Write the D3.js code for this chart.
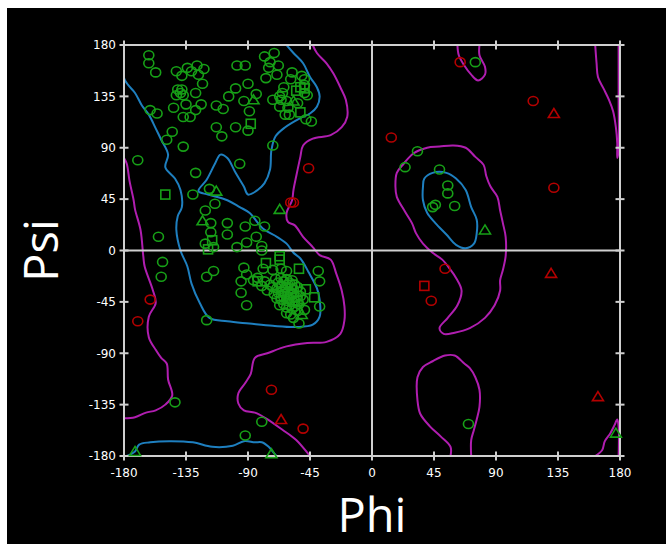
<!DOCTYPE html>
<html lang="en">
<head>
<meta charset="UTF-8">
<title>Ramachandran plot</title>
<style>
  body { margin: 0; background: #fff; }
  svg { display: block; }
</style>
</head>
<body>
<svg id="svg" width="666" height="545"></svg>
<script src="https://d3js.org/d3.v7.min.js"></script>
<script>
// tick values (degrees)
const phiTicks = [-180, -135, -90, -45, 0, 45, 90, 135, 180]
const psiTicks = [-180, -135, -90, -45, 0, 45, 90, 135, 180]

// residues, [phi, psi]
const greenCircles = [
  [-162,171],[-162,164],[-157,156],[-142,157],[-138,153],[-134,160],[-131,157],[-127,162],[-126,154],[-122,159],
  [-123,146],[-141,141],[-139,138],[-142,136],[-137,136],[-138,141],[-128,138],[-135,128],[-144,125],[-124,128],
  [-128,123],[-137,117],[-132,117],[-161,123],[-156,120],[-145,104],[-149,97],[-137,91],[-170,79],[-128,68],
  [-130,49],[-118,54],[-114,41],[-121,35],[-117,24],[-105,24],[-92,21],[-85,26],[-78,21],
  [-98,162],[-92,162],[-104,135],[-99,142],[-90,146],[-93,131],[-84,137],[-89,122],[-113,127],[-108,124],
  [-113,108],[-109,100],[-99,108],[-90,105],[-96,76],[-72,92],
  [-78,170],[-71,173],[-74,165],[-68,162],[-75,160],[-69,154],[-77,151],[-58,156],[-59,150],[-51,153],
  [-49,150],[-49,145],[-64,143],[-65,138],[-67,135],[-72,132],[-66,132],[-62,131],[-67,126],[-61,125],
  [-54,129],[-49,138],[-47,136],[-63,119],[-60,119],[-48,115],[-44,113],
  [-155,12],[-152,-10],[-153,-23],[-117,16],[-105,14],[-84,12],[-91,7],[-121,6],[-115,3],[-98,3],
  [-80,4],[-80,0],[-115,-18],[-120,-23],[-93,-15],[-91,-21],[-95,-27],[-86,-26],[-95,-37],[-91,-48],
  [-120,-61],[-79,-16],[-72,-17],[-66,-16],[-62,-18],[-39,-18],[-38,-27],[-38,-49],[-53,-64],[-49,-52],
  [-70,-25],[-68,-28],[-66,-24],[-64,-27],[-62,-25],[-60,-28],[-58,-26],[-56,-30],
  [-72,-32],[-69,-33],[-66,-31],[-63,-32],[-61,-30],[-59,-33],[-57,-34],[-54,-32],[-52,-36],
  [-71,-38],[-68,-37],[-65,-36],[-63,-38],[-61,-36],[-59,-39],[-57,-38],[-55,-41],[-52,-40],[-50,-43],
  [-69,-42],[-66,-43],[-64,-41],[-62,-44],[-60,-42],[-58,-45],[-56,-44],[-53,-47],
  [-67,-48],[-64,-47],[-62,-50],[-60,-48],[-58,-51],[-56,-49],[-54,-53],
  [-62,-55],[-59,-56],[-57,-59],[-74,-30],[-76,-35],[-78,-27],[-80,-31],[-83,-24],
  [75,165],[33,87],[24,73],[49,71],[55,57],[55,50],[46,40],[44,38],[60,39],[70,-152],
  [-143,-133],[-80,-150],[-92,-162]
]
const greenSquares = [
  [-88,111],[-150,49],[-55,140],[-52,121],[-52,143],[-49,142],[-116,9],[-119,1],[-67,-5],[-67,-8],
  [-77,-11],[-53,-16],[-48,-34],[-42,-41],[-83,-27],[-58,-30],[-66,-40],[-54,-44]
]
const greenTriangles = [
  [-113,52],[-123,26],[-67,36],[-57,131],[-86,132],[-51,-56],[82,18],[-172,-176],[-73,-178],[177,-160]
]
const redCircles = [
  [-46,72],[-59,42],[-57,42],[-161,-43],[-170,-62],[64,165],[117,131],[14,99],[132,55],[53,-16],
  [43,-44],[-73,-122],[-50,-156]
]
const redTriangles = [[132,120],[130,-20],[164,-128],[-66,-148]]
const redSquares = [[38,-31]]

// core region contours (blue)
const coreBeta = [
  [-180,180],[-180,151],[-177,145],[-172,138],[-167,127],[-162,119],[-157,107],[-153,97],[-148,84],[-150,73],
  [-143,63],[-139,53],[-138,38],[-141,30],[-142,18],[-139,0],[-134,-14],[-131,-29],[-125,-46],[-118,-59],
  [-105,-62],[-89,-64],[-72,-66],[-55,-67],[-43,-65],[-38,-58],[-38,-43],[-40,-33],[-46,-19],[-52,-7],
  [-57,-2],[-62,6],[-69,12],[-79,19],[-89,33],[-96,38],[-105,44],[-119,49],[-126,52],[-120,62],
  [-114,76],[-110,84],[-105,81],[-99,68],[-93,56],[-90,49],[-83,53],[-78,59],[-74,71],[-73,88],
  [-70,100],[-63,108],[-52,116],[-45,120],[-40,126],[-38,135],[-40,143],[-45,152],[-50,164],[-57,173],[-62,180]
]
const coreBottom = [
  [-178,-180],[-172,-176],[-169,-170],[-161,-168],[-147,-167],[-130,-168],[-116,-172],[-101,-171],[-93,-167],
  [-85,-168],[-80,-168],[-75,-172],[-70,-179],[-69,-180]
]
const coreAlphaL = [
  [38,63],[44,68],[54,68],[61,63],[68,53],[72,38],[76,27],[76,15],[74,6],[68,2],[61,5],[54,14],[46,24],
  [40,33],[37,44],[37,56]
]

// allowed region contours (magenta)
const allowedMain = [
  [-43,180],[-40,173],[-33,164],[-28,155],[-23,143],[-19,132],[-18,117],[-22,108],[-30,101],[-43,98],
  [-50,92],[-52,82],[-55,65],[-57,53],[-58,44],[-62,33],[-61,25],[-56,22],[-50,12],[-43,3],[-38,-4],
  [-30,-8],[-26,-20],[-22,-35],[-20,-49],[-20,-61],[-23,-73],[-33,-80],[-47,-81],[-62,-84],[-76,-90],
  [-85,-94],[-88,-108],[-92,-116],[-97,-125],[-97,-134],[-93,-140],[-85,-142],[-77,-147],[-65,-157],
  [-55,-166],[-45,-180]
]
const allowedLeft = [
  [-180,81],[-178,76],[-176,61],[-173,44],[-172,36],[-168,18],[-166,-5],[-165,-14],[-159,-35],[-157,-46],
  [-162,-58],[-162,-76],[-157,-87],[-153,-94],[-149,-99],[-148,-113],[-145,-127],[-150,-135],[-157,-140],
  [-164,-142],[-172,-146],[-180,-147]
]
const allowedAlphaL = [
  [18,68],[23,76],[30,85],[40,90],[49,91],[59,92],[68,90],[75,82],[81,75],[83,65],[86,56],[91,47],[93,35],
  [95,24],[97,12],[97,-5],[95,-17],[93,-26],[93,-35],[89,-48],[82,-59],[71,-68],[60,-72],[52,-73],[49,-68],
  [55,-59],[62,-48],[65,-35],[61,-24],[57,-17],[51,-8],[44,-2],[37,6],[32,15],[29,24],[24,34],[18,47],[17,56]
]
const allowedLowLoop = [
  [57,-180],[57,-172],[50,-163],[42,-154],[35,-143],[33,-131],[33,-111],[37,-102],[44,-97],[53,-92],[60,-92],
  [67,-99],[71,-103],[75,-111],[78,-122],[78,-137],[76,-148],[74,-157],[72,-166],[72,-180]
]
const allowedTopLoop = [
  [62,180],[63,171],[67,162],[72,154],[77,149],[82,154],[82,161],[78,171],[78,180]
]
const allowedRightTop = [
  [162,180],[163,164],[164,152],[168,142],[172,132],[175,122],[177,108],[178,94],[178,81],[179,88],[179,132],[179,180]
]
const allowedRightBottom = [
  [162,-180],[167,-175],[169,-167],[173,-160],[176,-153],[178,-148],[179,-154],[179,-180]
]

const coreContours = [coreBeta, coreBottom, coreAlphaL]
const allowedContours = [allowedMain, allowedLeft, allowedAlphaL, allowedLowLoop, allowedTopLoop, allowedRightTop, allowedRightBottom]
const closedLoops = [coreAlphaL, allowedAlphaL]

/* ------------------------------------------------------------------ */

const svg = d3.select('#svg')

svg.append('rect')
  .attr('x', 7).attr('y', 8)
  .attr('width', 659).attr('height', 536)
  .attr('fill', '#000')

const xScale = d3.scaleLinear().domain([-180, 180]).range([124, 620])
const yScale = d3.scaleLinear().domain([-180, 180]).range([456, 45])

svg.append('clipPath').attr('id', 'plot')
  .append('rect')
  .attr('x', 124).attr('y', 45)
  .attr('width', 496).attr('height', 411)

const lineOpen = d3.line()
  .x(d => xScale(d[0]))
  .y(d => yScale(d[1]))
  .curve(d3.curveCatmullRom)

const lineClosed = d3.line()
  .x(d => xScale(d[0]))
  .y(d => yScale(d[1]))
  .curve(d3.curveCatmullRomClosed)

const contours = svg.append('g').attr('clip-path', 'url(#plot)')

contours.selectAll('path.allowed')
  .data(allowedContours)
  .enter()
  .append('path')
  .attr('class', 'allowed')
  .attr('d', d => closedLoops.includes(d) ? lineClosed(d) : lineOpen(d))
  .attr('fill', 'none')
  .attr('stroke', '#b01eb0')
  .attr('stroke-width', 2)

contours.selectAll('path.core')
  .data(coreContours)
  .enter()
  .append('path')
  .attr('class', 'core')
  .attr('d', d => closedLoops.includes(d) ? lineClosed(d) : lineOpen(d))
  .attr('fill', 'none')
  .attr('stroke', '#1e7fbf')
  .attr('stroke-width', 2)

// frame, zero lines and crossing ticks
const axisColor = '#cfcfcf'
const axes = svg.append('g')
  .attr('stroke', axisColor)
  .attr('stroke-width', 2)

axes.append('rect')
  .attr('x', xScale(-180)).attr('y', yScale(180))
  .attr('width', xScale(180) - xScale(-180))
  .attr('height', yScale(-180) - yScale(180))
  .attr('fill', 'none')

axes.append('line')
  .attr('x1', xScale(0)).attr('x2', xScale(0))
  .attr('y1', yScale(180)).attr('y2', yScale(-180))
axes.append('line')
  .attr('x1', xScale(-180)).attr('x2', xScale(180))
  .attr('y1', yScale(0)).attr('y2', yScale(0))

const tk = 4.5
;[yScale(180), yScale(-180)].forEach(y => {
  axes.selectAll(null)
    .data(phiTicks)
    .enter()
    .append('line')
    .attr('x1', d => xScale(d)).attr('x2', d => xScale(d))
    .attr('y1', y - tk).attr('y2', y + tk)
})
;[xScale(-180), xScale(180)].forEach(x => {
  axes.selectAll(null)
    .data(psiTicks)
    .enter()
    .append('line')
    .attr('y1', d => yScale(d)).attr('y2', d => yScale(d))
    .attr('x1', x - tk).attr('x2', x + tk)
})

// markers
const green = '#17a017'
const red = '#b40000'
const marks = svg.append('g')
  .attr('fill', 'none')
  .attr('stroke-width', 1.6)

function drawCircles(data, color) {
  marks.selectAll(null)
    .data(data)
    .enter()
    .append('ellipse')
    .attr('cx', d => xScale(d[0]))
    .attr('cy', d => yScale(d[1]))
    .attr('rx', 5)
    .attr('ry', 4.5)
    .attr('stroke', color)
}
function drawSquares(data, color) {
  marks.selectAll(null)
    .data(data)
    .enter()
    .append('rect')
    .attr('x', d => xScale(d[0]) - 4.5)
    .attr('y', d => yScale(d[1]) - 4.5)
    .attr('width', 9)
    .attr('height', 9)
    .attr('stroke', color)
}
function drawTriangles(data, color) {
  marks.selectAll(null)
    .data(data)
    .enter()
    .append('path')
    .attr('transform', d => `translate(${xScale(d[0])},${yScale(d[1])})`)
    .attr('d', 'M0,-5L5.5,4L-5.5,4Z')
    .attr('stroke', color)
}

drawCircles(greenCircles, green)
drawSquares(greenSquares, green)
drawTriangles(greenTriangles, green)
drawCircles(redCircles, red)
drawSquares(redSquares, red)
drawTriangles(redTriangles, red)

// tick labels
const labels = svg.append('g')
  .style('font-family', 'DejaVu Sans, sans-serif')
  .style('font-size', '12px')
  .attr('fill', '#fff')

labels.selectAll('text.y')
  .data(psiTicks)
  .enter()
  .append('text')
  .attr('class', 'y')
  .attr('x', 116)
  .attr('y', d => yScale(d))
  .attr('dy', '0.36em')
  .attr('text-anchor', 'end')
  .text(d => d)

labels.selectAll('text.x')
  .data(phiTicks)
  .enter()
  .append('text')
  .attr('class', 'x')
  .attr('x', d => xScale(d))
  .attr('y', 477)
  .attr('text-anchor', 'middle')
  .text(d => d)

// axis titles
svg.append('text')
  .attr('x', xScale(0))
  .attr('y', 532)
  .attr('text-anchor', 'middle')
  .style('font-family', 'Open Sans, sans-serif')
  .style('font-size', '47px')
  .attr('fill', '#fff')
  .text('Phi')

svg.append('text')
  .attr('transform', `translate(58,${yScale(0)}) rotate(-90)`)
  .attr('text-anchor', 'middle')
  .style('font-family', 'Open Sans, sans-serif')
  .style('font-size', '47px')
  .attr('fill', '#fff')
  .text('Psi')
</script>
</body>
</html>
